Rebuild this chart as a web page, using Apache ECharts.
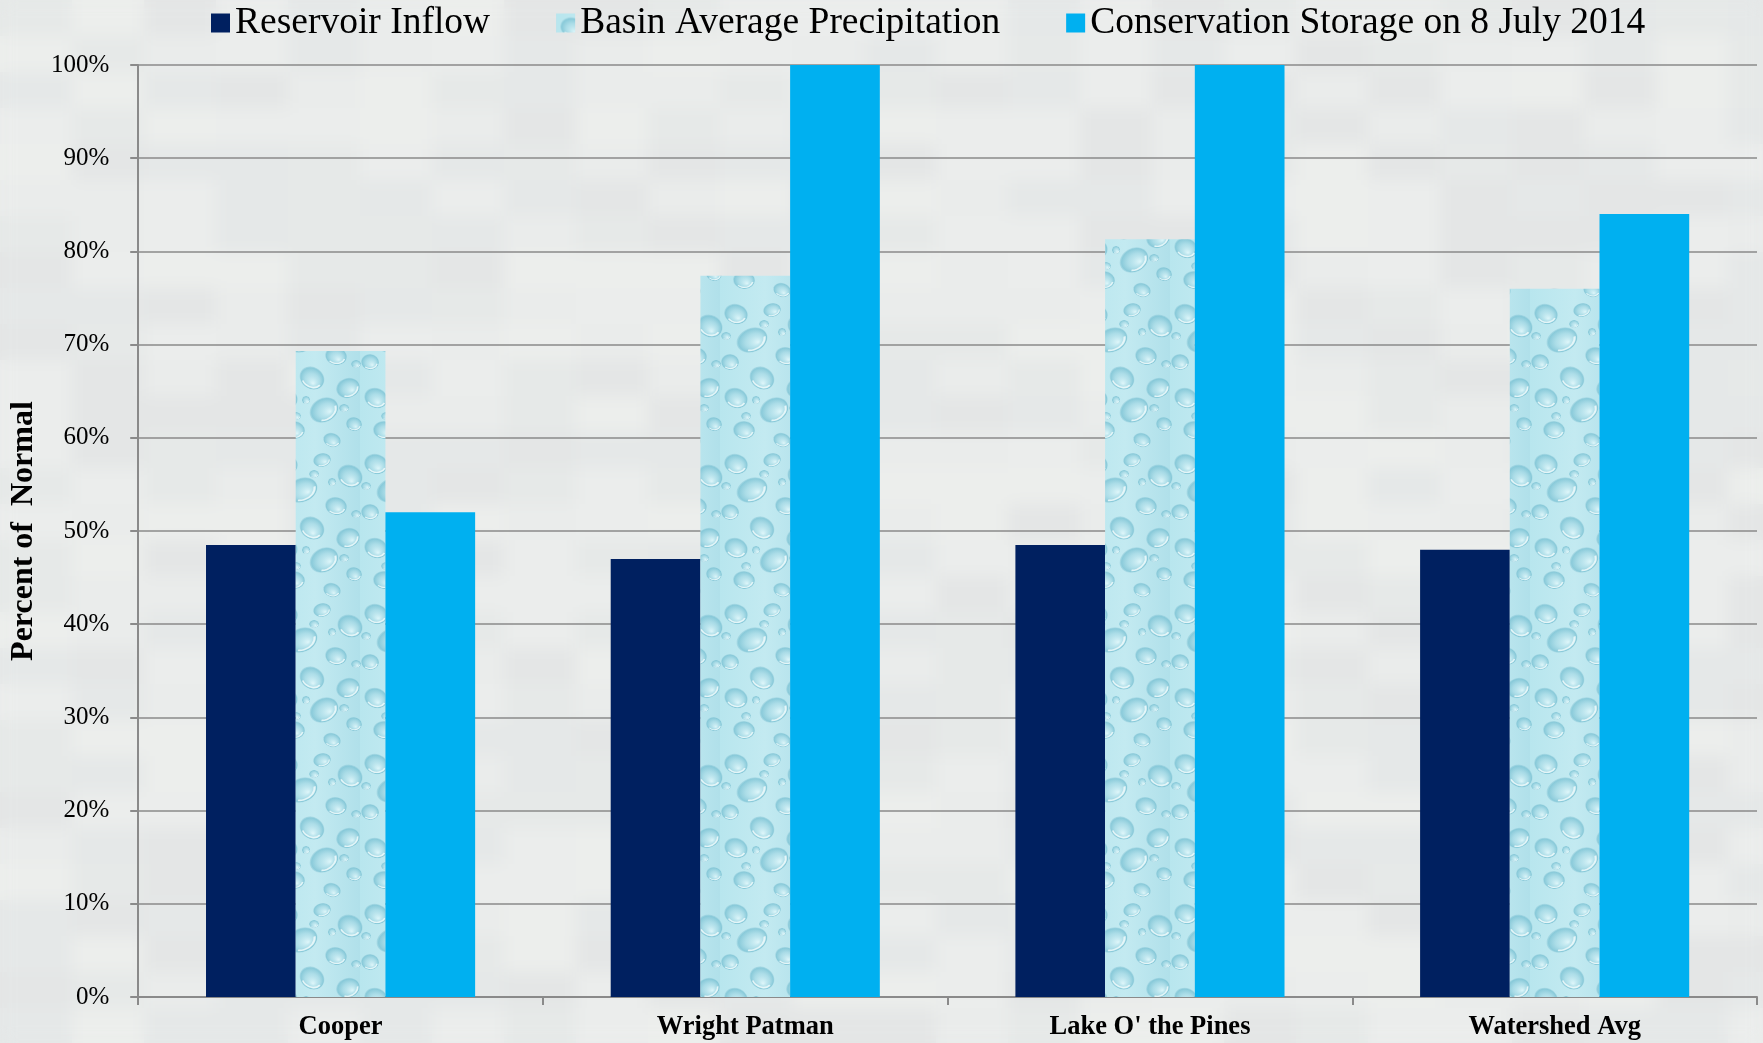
<!DOCTYPE html>
<html>
<head>
<meta charset="utf-8">
<title>Percent of Normal</title>
<script src="https://cdn.jsdelivr.net/npm/echarts@6/dist/echarts.min.js"></script>
<style>
  html, body { margin: 0; padding: 0; background: #e8eaea; }
  #wrap { position: relative; width: 1763px; height: 1043px; overflow: hidden; }
  #bg, #chart { position: absolute; left: 0; top: 0; width: 1763px; height: 1043px; }
</style>
</head>
<body>
<div id="wrap">
  <canvas id="bg" width="1763" height="1043"></canvas>
  <div id="chart"></div>
</div>
<script>
// ---- chart data ----
const categories = ['Cooper', 'Wright Patman', "Lake O' the Pines", 'Watershed Avg'];
const reservoirInflow = [48.5, 47.0, 48.5, 48.0];
const basinAvgPrecip = [69.3, 77.4, 81.3, 76.0];
const conservationStorage = [52.0, 100, 100, 84.0];
const seriesNames = ['Reservoir Inflow', 'Basin Average Precipitation', 'Conservation Storage on 8 July 2014'];

// ---- soft blocky backdrop ----
(function paintBackdrop() {
  const c = document.getElementById('bg');
  const ctx = c.getContext('2d');
  ctx.fillStyle = '#e7e9e9';
  ctx.fillRect(0, 0, c.width, c.height);
  const shades = ['#eceeed', '#e4e7e7', '#eff0ee', '#e2e5e5', '#f0f1ee', '#e6e9e8'];
  const cell = 36;
  for (let y = 0; y < c.height; y += cell) {
    for (let x = 0; x < c.width; x += cell * 2) {
      const k = Math.abs(Math.floor(Math.sin(x * 0.013 + y * 0.029) * 7 + Math.cos(x * 0.007 - y * 0.017) * 5)) % shades.length;
      ctx.fillStyle = shades[k];
      ctx.globalAlpha = 0.6;
      ctx.fillRect(x, y, cell * 2, cell);
    }
  }
  ctx.globalAlpha = 1;
  ctx.filter = 'blur(8px)';
  ctx.drawImage(c, 0, 0);
  ctx.filter = 'none';
})();

// ---- water-droplet fill for the precipitation bars ----
function makeDropletTile() {
  const w = 90, h = 150;
  const t = document.createElement('canvas');
  t.width = w; t.height = h;
  const ctx = t.getContext('2d');
  const base = ctx.createLinearGradient(0, 0, w, 0);
  base.addColorStop(0, '#b8e6ee');
  base.addColorStop(0.5, '#c3eaf1');
  base.addColorStop(1, '#b0e0ea');
  ctx.fillStyle = base;
  ctx.fillRect(0, 0, w, h);
  // x, y, rx, ry, rotation
  const drops = [
    [16, 14, 12, 10, 0.3], [52, 10, 9, 7, -0.2], [80, 26, 13, 11, 0.5],
    [32, 40, 16, 12, -0.4], [66, 56, 11, 9, 0.2], [10, 62, 9, 8, 0.1],
    [42, 78, 13, 11, 0.6], [78, 88, 12, 10, -0.3], [16, 98, 12, 10, 0.4],
    [54, 110, 15, 12, -0.5], [84, 124, 8, 7, 0.2], [24, 130, 11, 9, 0.1],
    [62, 140, 9, 7, 0.3], [44, 24, 5, 4, 0], [6, 36, 5, 4, 0], [62, 32, 4, 4, 0],
    [26, 116, 5, 4, 0], [86, 64, 5, 4, 0], [36, 100, 4, 4, 0], [74, 108, 5, 4, 0]
  ];
  const paint = (x, y, rx, ry, rot) => {
    ctx.save();
    ctx.translate(x, y);
    ctx.rotate(rot);
    ctx.scale(1, ry / rx);
    const r = rx;
    const g = ctx.createRadialGradient(r * 0.3, r * 0.35, r * 0.05, 0, 0, r);
    g.addColorStop(0, 'rgba(220,245,249,0.9)');
    g.addColorStop(0.55, 'rgba(165,217,229,0.7)');
    g.addColorStop(0.9, 'rgba(120,192,210,0.75)');
    g.addColorStop(1, 'rgba(140,200,216,0.4)');
    ctx.fillStyle = g;
    ctx.beginPath(); ctx.arc(0, 0, r, 0, Math.PI * 2); ctx.fill();
    ctx.strokeStyle = 'rgba(245,252,253,0.8)';
    ctx.lineWidth = Math.max(1, r * 0.14);
    ctx.beginPath(); ctx.arc(0, 0, r * 0.82, Math.PI * 0.05, Math.PI * 0.7); ctx.stroke();
    ctx.restore();
  };
  drops.forEach(d => {
    for (const dx of [-w, 0, w]) for (const dy of [-h, 0, h]) paint(d[0] + dx, d[1] + dy, d[2], d[3], d[4]);
  });
  return t;
}
const dropletTile = makeDropletTile();

const chart = echarts.init(document.getElementById('chart'), null, { renderer: 'canvas' });

const serifFont = '"Liberation Serif", "Times New Roman", serif';

chart.setOption({
  backgroundColor: 'transparent',
  animation: false,
  legend: {
    data: seriesNames,
    top: 3,
    left: 211,
    padding: 0,
    icon: 'rect',
    itemWidth: 19,
    itemHeight: 19,
    itemGap: 66,
    textStyle: { fontFamily: serifFont, fontSize: 37.5, color: '#000', lineHeight: 40 }
  },
  grid: { left: 135, right: 6, top: 65, bottom: 46, containLabel: false },
  xAxis: {
    type: 'category',
    data: categories,
    axisLine: { show: true, lineStyle: { color: '#8a8a8a', width: 2 } },
    axisTick: { show: true, length: 8, lineStyle: { color: '#8a8a8a', width: 2 } },
    axisLabel: { fontFamily: serifFont, fontSize: 26.5, fontWeight: 'bold', color: '#000', margin: 17 },
    splitLine: { show: false }
  },
  yAxis: {
    type: 'value',
    min: 0,
    max: 100,
    interval: 10,
    name: 'Percent of  Normal',
    nameLocation: 'middle',
    nameGap: 98,
    nameTextStyle: { fontFamily: serifFont, fontSize: 32, fontWeight: 'bold', color: '#000' },
    axisLine: { show: true, lineStyle: { color: '#8a8a8a', width: 2 } },
    axisTick: { show: true, length: 8, lineStyle: { color: '#8a8a8a', width: 2 } },
    axisLabel: { formatter: '{value}%', fontFamily: serifFont, fontSize: 25, color: '#000', margin: 29 },
    splitLine: { show: true, lineStyle: { color: '#8a8a8a', width: 1.5 } }
  },
  series: [
    {
      name: seriesNames[0], type: 'bar', data: reservoirInflow,
      barGap: '0%', barCategoryGap: '33.5%',
      itemStyle: { color: '#002060' }
    },
    {
      name: seriesNames[1], type: 'bar', data: basinAvgPrecip,
      barGap: '0%', barCategoryGap: '33.5%',
      itemStyle: { color: { image: dropletTile, repeat: 'repeat' } }
    },
    {
      name: seriesNames[2], type: 'bar', data: conservationStorage,
      barGap: '0%', barCategoryGap: '33.5%',
      itemStyle: { color: '#00b0f0' }
    }
  ]
});
</script>
</body>
</html>
